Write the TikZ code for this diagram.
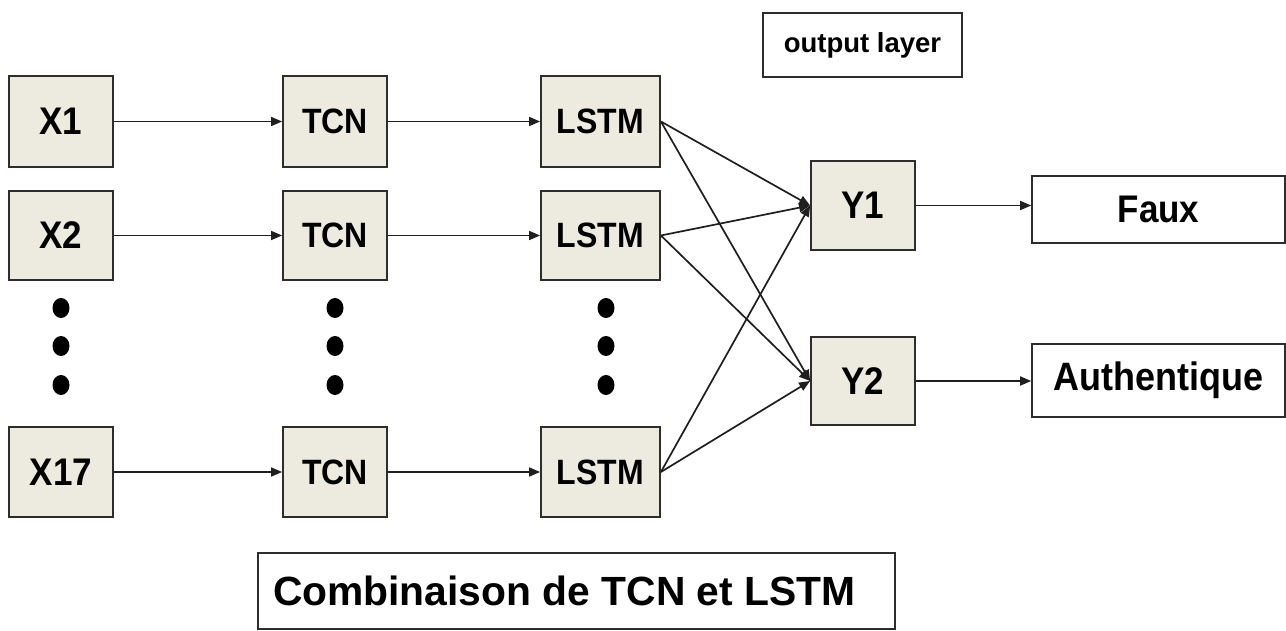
\documentclass[tikz,border=0pt]{standalone}
\usepackage{fontspec}
\usepackage{graphicx}
\setmainfont{Liberation Sans}
\usetikzlibrary{arrows.meta}

\definecolor{cellfill}{RGB}{237,235,224}
\definecolor{edgegray}{RGB}{45,45,45}

% bold labels, slightly tall
\newcommand{\tallbf}[2]{\fontsize{#1}{#1}\selectfont\bfseries\scalebox{1}[1.1]{#2}}

\tikzset{
  cell/.style={draw=edgegray, line width=1.8pt, fill=cellfill, inner sep=0pt,
               minimum width=104pt, minimum height=90pt},
  wide/.style={minimum width=119pt},
  outbox/.style={draw=edgegray, line width=1.6pt, fill=white, inner sep=0pt},
  flow/.style={draw=black!88, line width=1.7pt, -{Triangle[length=11pt,width=9pt]}},
  blob/.style={fill=black}
}

\begin{document}
\begin{tikzpicture}[x=1pt, y=-1pt]
\useasboundingbox[fill=white] (0,0) rectangle (1286,631);

% input column
\node[cell, minimum height=91pt] (x1)  at (61,121.5) {\tallbf{35}{X1}};
\node[cell, minimum height=89pt] (x2)  at (61,235.5) {\tallbf{35}{X2}};
\node[cell]                      (x17) at (61,472)   {\tallbf{35}{X17}};

% TCN column
\node[cell, minimum height=91pt] (t1)  at (335,121.5) {\tallbf{32}{TCN}};
\node[cell, minimum height=89pt] (t2)  at (335,235.5) {\tallbf{32}{TCN}};
\node[cell]                      (t17) at (335,472)   {\tallbf{32}{TCN}};

% LSTM column
\node[cell, wide, minimum height=91pt] (l1)  at (600.5,121.5) {\tallbf{32}{LSTM}};
\node[cell, wide, minimum height=89pt] (l2)  at (600.5,235.5) {\tallbf{32}{LSTM}};
\node[cell, wide]                      (l17) at (600.5,472)   {\tallbf{32}{LSTM}};

% output units
\node[cell, minimum height=89pt] (y1) at (863,205.5) {\tallbf{35}{Y1}};
\node[cell, minimum height=88pt] (y2) at (863,381)   {\tallbf{35}{Y2}};

% class boxes
\node[outbox, minimum width=253pt, minimum height=67pt] (faux) at (1158.5,209.5) {\tallbf{35}{Faux}};
\node[outbox, minimum width=253pt, minimum height=73pt] (auth) at (1158.5,380.5)
  {\tallbf{36}{Authentique}\hspace{22pt}};

% captions
\node[outbox, minimum width=199pt, minimum height=64pt] (outl) at (862.5,45)
  {\fontsize{27.5}{27.5}\selectfont\bfseries output layer};
\node[outbox, minimum height=76pt, inner xsep=15pt] (comb) at (576.5,591)
  {\makebox[607pt][l]{\fontsize{40.8}{40.8}\selectfont\bfseries Combinaison de TCN et LSTM}};

% vertical ellipses between rows
\foreach \cx in {61,335,606}{
  \foreach \cy in {308,346,385}{
    \fill[blob] (\cx,\cy) ellipse [x radius=8.5pt, y radius=10pt];
  }
}

% row connections
\draw[flow] (x1) -- (t1);
\draw[flow] (x2) -- (t2);
\draw[flow] (x17) -- (t17);
\draw[flow] (t1) -- (l1);
\draw[flow] (t2) -- (l2);
\draw[flow] (t17) -- (l17);

% fully connected output layer
\foreach \src in {l1,l2,l17}{
  \draw[flow] (\src.east) -- (y1.west);
  \draw[flow] (\src.east) -- (y2.west);
}

\draw[flow] (y1.east) -- (y1.east -| faux.west);
\draw[flow] (y2.east) -- (y2.east -| auth.west);
\end{tikzpicture}
\end{document}
